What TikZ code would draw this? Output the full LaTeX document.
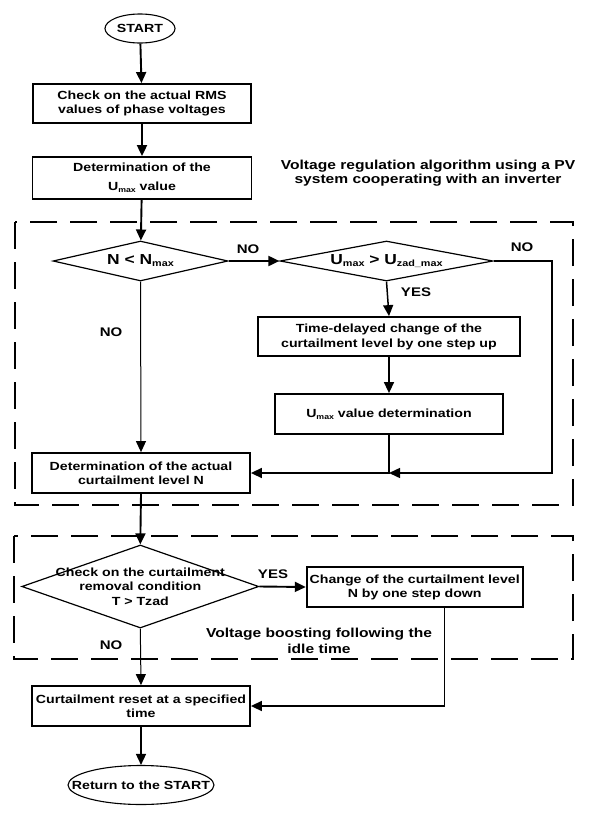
\documentclass[tikz,border=0pt]{standalone}
\usepackage{fontspec}
\setmainfont{Liberation Sans}[FakeStretch=1.2]
\usetikzlibrary{shapes.geometric,arrows.meta,calc}
\newcommand\bxf{\fontsize{11.8}{14}\selectfont\bfseries}
\newcommand\dmf{\fontsize{14.5}{17}\selectfont\bfseries}
\newcommand\lbf{\fontsize{12.5}{14}\selectfont\bfseries}
\newcommand\ttf{\fontsize{13}{14}\selectfont\bfseries}
\newcommand\vbf{\fontsize{13}{16.5}\selectfont\bfseries}
\newcommand\sbs[2][7.3]{\raisebox{-0.25ex}{\fontsize{#1}{#1}\selectfont\bfseries #2}}
\tikzset{
  box/.style={draw, line width=1.8pt, inner sep=0pt, align=center, font=\bxf},
  term/.style={draw, ellipse, line width=1.1pt, inner sep=0pt},
  dec/.style={draw, diamond, line width=1.2pt, inner sep=0pt},
  lbl/.style={font=\lbf, inner sep=0pt},
  tip/.style={-{Triangle[length=11pt,width=10pt]}},
  thick arr/.style={tip, line width=1.9pt},
  thin arr/.style={tip, line width=1pt},
  mid arr/.style={tip, line width=1.5pt},
  frame/.style={line width=1.8pt, dash pattern=on 27pt off 13pt}
}
\begin{document}
\begin{tikzpicture}[x=1pt,y=-1pt]
\useasboundingbox (0,0) rectangle (589,817);
% frames
\draw[frame] (15,222) rectangle (573,505);
\draw[frame] (14,536) rectangle (573,659);
% nodes
\node[term, minimum width=70pt, minimum height=29pt,
      label={[font=\bxf]center:START}] (start) at (140,28.5) {};
\node[box, minimum width=218pt, minimum height=39pt] (b1) at (142,103.5)
  {Check on the actual RMS\\values of phase voltages};
\node[box, minimum width=219pt, minimum height=42pt] (b2) at (142,178)
  {Determination of the\\[5pt]U\sbs{max} value};
\node[font=\ttf, align=center, inner sep=0pt] (title) at (428,173)
  {Voltage regulation algorithm using a PV\\system cooperating with an inverter};
\node[dec, minimum width=175pt, minimum height=40pt,
      label={[font=\dmf]center:N < N\sbs[9]{max}}] (d1) at (140.5,261) {};
\node[dec, minimum width=213pt, minimum height=40pt,
      label={[font=\dmf]center:U\sbs[9]{max} > U\sbs[9]{zad\_max}}] (d2) at (386.5,261) {};
\node[box, minimum width=262pt, minimum height=39pt] (td) at (389,336.5)
  {Time-delayed change of the\\[1pt]curtailment level by one step up};
\node[box, minimum width=228pt, minimum height=40pt] (um) at (389,414)
  {U\sbs{max} value determination};
\node[box, minimum width=218pt, minimum height=40pt] (b3) at (141,473)
  {Determination of the actual\\curtailment level N};
\node[dec, minimum width=237pt, minimum height=83pt,
      label={[font=\bxf, align=center]center:{Check on the curtailment\\[0.5pt]removal condition\\[0.5pt]T > Tzad}}] (d3) at (140.3,586.5) {};
\node[box, minimum width=216pt, minimum height=39.5pt] (b4) at (414.7,587)
  {Change of the curtailment level\\N by one step down};
\node[font=\vbf, align=center, inner sep=0pt] (vb) at (319,641)
  {Voltage boosting following the\\idle time};
\node[box, minimum width=218pt, minimum height=40pt] (b5) at (141,706)
  {Curtailment reset at a specified\\time};
\node[term, minimum width=146pt, minimum height=39pt,
      label={[font=\bxf]center:Return to the START}] (ret) at (141,785) {};
% labels
\node[lbl] (no1) at (248,249.5) {NO};
\node[lbl] (no2) at (522,247) {NO};
\node[lbl] (yes1) at (416,292) {YES};
\node[lbl] (no3) at (111,332) {NO};
\node[lbl] (yes2) at (273,574) {YES};
\node[lbl] (no4) at (111,645) {NO};
% helper coordinates
\coordinate (J) at (um.south |- b3.east);
\coordinate (loopc) at (552,473);
\coordinate (b4o) at ([xshift=30pt]b4.south);
% connectors
\draw[thick arr] (start) -- (b1);
\draw[thick arr] (b1) -- (b2);
\draw[thick arr] (b2) -- (d1);
\draw[thick arr] (d1.east) -- (d2.west);
\draw[mid arr] (d2.east) -| (loopc) -- (J);
\draw[mid arr] (d2.south) -- (td.north);
\draw[mid arr] (td.south) -- (um.north);
\draw[mid arr] (um.south) -- (J) -- (b3.east);
\draw[thin arr] (d1.south) -- (b3.north);
\draw[thick arr] (b3.south) -- (d3.north);
\draw[thick arr] (d3.east) -- (b4.west);
\draw[mid arr] (b4o) |- (b5.east);
\draw[thin arr] (d3.south) -- (b5.north);
\draw[mid arr] (b5.south) -- (ret.north);
\end{tikzpicture}
\end{document}
